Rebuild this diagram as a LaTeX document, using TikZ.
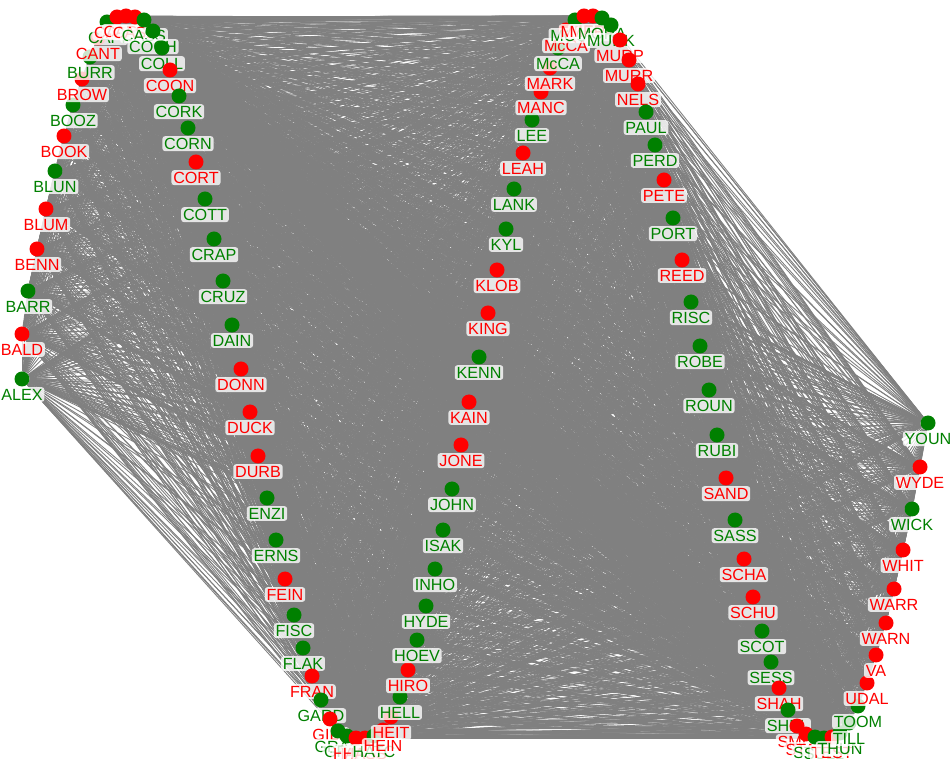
\documentclass[tikz,border=0pt]{standalone}
\usepackage{fontspec}
\setmainfont{Liberation Sans}
\usetikzlibrary{backgrounds}

\definecolor{rep}{RGB}{0,128,0}
\definecolor{dem}{RGB}{255,0,0}

\tikzset{
  senator/.style={circle,fill=#1,minimum size=0.3cm,inner sep=0pt,label distance=3.8pt},
  lbl/.style={fill=white,fill opacity=0.8,text opacity=1,rounded corners=1.5pt,
    inner sep=1pt,font=\fontsize{9.2}{10}\selectfont},
  vote/.style={gray,line width=0.5pt}
}

\begin{document}
\begin{tikzpicture}[x=0.02cm,y=-0.02cm]
\useasboundingbox (0,0) rectangle (950,759);

% senators in alphabetical order, along the serpentine
\foreach \nm/\x/\y/\pty/\txt [count=\k] in {
  ALEX/22/379/rep/ALEX, BALD/22/334/dem/BALD, BARR/28/291/rep/BARR,
  BENN/37/249/dem/BENN, BLUM/46/209/dem/BLUM, BLUN/55/171/rep/BLUN,
  BOOK/64/136/dem/BOOK, BOOZ/73/105/rep/BOOZ, BROW/82/79/dem/BROW,
  BURR/90/57/rep/BURR, CANT/98/38/dem/CANT, CAPI/107/22/rep/CAPI,
  CARD/117/17/dem/CARD, CARP/126/16/dem/CARP, CASE/135/17/dem/CASE,
  CASS/144/20/rep/CASS, COCH/153/31/rep/COCH, COLL/162/48/rep/COLL,
  COON/170/70/dem/COON, CORK/179/96/rep/CORK, CORN/188/128/rep/CORN,
  CORT/196/162/dem/CORT, COTT/205/199/rep/COTT, CRAP/214/239/rep/CRAP,
  CRUZ/223/281/rep/CRUZ, DAIN/232/325/rep/DAIN, DONN/241/369/dem/DONN,
  DUCK/250/412/dem/DUCK, DURB/258/456/dem/DURB, ENZI/267/498/rep/ENZI,
  ERNS/276/540/rep/ERNS, FEIN/285/579/dem/FEIN, FISC/294/615/rep/FISC,
  FLAK/303/648/rep/FLAK, FRAN/312/676/dem/FRAN, GARD/321/700/rep/GARD,
  GILL/330/719/dem/GILL, GRAH/338/731/rep/GRAH, GRAS/347/736/rep/GRAS,
  HARR/356/738/dem/HARR, HASS/365/738/dem/HASS, HATC/374/736/rep/HATC,
  HEIN/383/730/dem/HEIN, HEIT/391/717/dem/HEIT, HELL/400/697/rep/HELL,
  HIRO/408/670/dem/HIRO, HOEV/417/640/rep/HOEV, HYDE/426/606/rep/HYDE,
  INHO/435/569/rep/INHO, ISAK/443/530/rep/ISAK, JOHN/452/489/rep/JOHN,
  JONE/461/445/dem/JONE, KAIN/469/402/dem/KAIN, KENN/479/357/rep/KENN,
  KING/488/313/dem/KING, KLOB/497/270/dem/KLOB, KYL/506/229/rep/KYL,
  LANK/514/189/rep/LANK, LEAH/523/153/dem/LEAH, LEE/532/120/rep/LEE,
  MANC/541/92/dem/MANC, MARK/550/68/dem/MARK, MCCN/558/48/rep/McCA,
  MCCS/566/30/dem/McCA, MCCO/575/20/rep/MCCO, MENE/584/16/dem/MENE,
  MERK/593/16/dem/MERK, MORA/602/18/rep/MORA, MURK/611/25/rep/MURK,
  MURP/620/40/dem/MURP, MURR/629/60/dem/MURR, NELS/638/84/dem/NELS,
  PAUL/646/112/rep/PAUL, PERD/655/145/rep/PERD, PETE/664/180/dem/PETE,
  PORT/673/218/rep/PORT, REED/682/260/dem/REED, RISC/691/302/rep/RISC,
  ROBE/700/346/rep/ROBE, ROUN/709/390/rep/ROUN, RUBI/717/435/rep/RUBI,
  SAND/726/478/dem/SAND, SASS/735/520/rep/SASS, SCHA/744/559/dem/SCHA,
  SCHU/753/597/dem/SCHU, SCOT/762/631/rep/SCOT, SESS/771/662/rep/SESS,
  SHAH/779/688/dem/SHAH, SHEL/788/710/rep/SHEL, SMIT/797/726/dem/SMIT,
  STAB/806/734/dem/STAB, STRA/815/737/rep/STRA, SULL/824/738/rep/SULL,
  TEST/832/737/dem/TEST, THUN/840/733/rep/THUN, TILL/849/723/rep/TILL,
  TOOM/858/706/rep/TOOM, UDAL/867/683/dem/UDAL, VANH/876/655/dem/VA,
  WARN/886/623/dem/WARN, WARR/894/589/dem/WARR, WHIT/903/550/dem/WHIT,
  WICK/912/509/rep/WICK, WYDE/920/467/dem/WYDE, YOUN/928/423/rep/YOUN}
  \node[senator=\pty,alias=v\k,label={[lbl,text=\pty]below:\txt}] (\nm) at (\x,\y) {};

% co-voting links
\begin{scope}[on background layer]
\foreach \i in {1,...,104}{
  \pgfmathtruncatemacro{\nxt}{\i+1}
  \foreach \j in {\nxt,...,105}
    \draw[vote] (v\i) -- (v\j);
}
\end{scope}

\end{tikzpicture}
\end{document}
